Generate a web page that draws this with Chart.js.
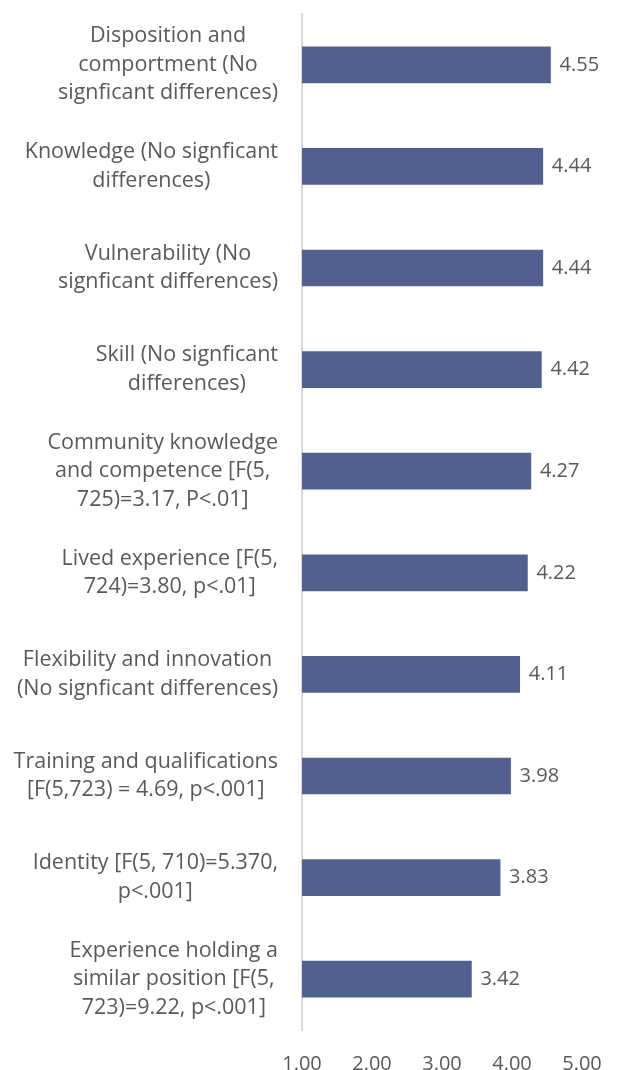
<!DOCTYPE html>
<html>
<head>
<meta charset="utf-8">
<title>Mean ratings</title>
<script src="https://cdn.jsdelivr.net/npm/chart.js@4/dist/chart.umd.min.js"></script>
<style>
    html, body { margin: 0; padding: 0; background: #ffffff; }
    #wrap { position: relative; width: 618px; height: 1070px; }
</style>
</head>
<body>
<div id="wrap">
    <canvas id="ratings-chart"></canvas>
</div>
<script>
// Category labels, one array of lines per bar (top to bottom)
const categories = [
    ['Disposition and', 'comportment (No', 'signficant differences)'],
    ['Knowledge (No signficant', 'differences)'],
    ['Vulnerability (No', 'signficant differences)'],
    ['Skill (No signficant', 'differences)'],
    ['Community knowledge', 'and competence [F(5,', '725)=3.17, P<.01]'],
    ['Lived experience [F(5,', '724)=3.80, p<.01]'],
    ['Flexibility and innovation', '(No signficant differences)'],
    ['Training and qualifications', '[F(5,723) = 4.69, p<.001]'],
    ['Identity [F(5, 710)=5.370,', 'p<.001]'],
    ['Experience holding a', 'similar position [F(5,', '723)=9.22, p<.001]']
];

const meanScores = [4.55, 4.44, 4.44, 4.42, 4.27, 4.22, 4.11, 3.98, 3.83, 3.42];

const xTicks = [1, 2, 3, 4, 5];

const FONT = '"Open Sans", Lato, sans-serif';
const LABEL_SIZE = 21.5;
const VALUE_SIZE = 20;
const TEXT_COLOR = '#595959';

// Excel-style category labels: each block is right-aligned, lines centred inside it
const categoryLabels = {
    id: 'categoryLabels',
    afterDraw(chart) {
        const ctx = chart.ctx;
        const yScale = chart.scales.y;
        const right = chart.chartArea.left - 24;
        const lineH = 28.5;
        ctx.save();
        ctx.font = LABEL_SIZE + 'px ' + FONT;
        ctx.fillStyle = TEXT_COLOR;
        ctx.textAlign = 'center';
        ctx.textBaseline = 'middle';
        categories.forEach((lines, i) => {
            const widest = Math.max(...lines.map(l => ctx.measureText(l).width));
            const cx = right - widest / 2;
            const cy = yScale.getPixelForTick(i);
            lines.forEach((line, j) => {
                ctx.fillText(line, cx, cy + (j - (lines.length - 1) / 2) * lineH);
            });
        });
        ctx.restore();
    }
};

// Value printed just past the end of each bar
const valueLabels = {
    id: 'valueLabels',
    afterDatasetsDraw(chart) {
        const ctx = chart.ctx;
        const meta = chart.getDatasetMeta(0);
        ctx.save();
        ctx.font = VALUE_SIZE + 'px ' + FONT;
        ctx.fillStyle = TEXT_COLOR;
        ctx.textAlign = 'left';
        ctx.textBaseline = 'middle';
        meta.data.forEach((bar, i) => {
            ctx.fillText(meanScores[i].toFixed(2), bar.x + 9, bar.y);
        });
        ctx.restore();
    }
};

const ctx = document.getElementById('ratings-chart').getContext('2d');
const ratingsChart = new Chart(ctx, {
    type: 'bar',
    data: {
        labels: categories,
        datasets: [{
            data: meanScores,
            backgroundColor: '#51608f',
            borderWidth: 0,
            barThickness: 36
        }]
    },
    options: {
        indexAxis: 'y',
        responsive: true,
        maintainAspectRatio: false,
        animation: false,
        layout: {
            padding: { top: 14, right: 36, left: 0, bottom: 0 }
        },
        plugins: {
            legend: { display: false },
            tooltip: { enabled: false }
        },
        scales: {
            x: {
                min: 1,
                max: 5,
                afterBuildTicks: (scale) => {
                    scale.ticks = xTicks.map(v => ({ value: v }));
                },
                afterFit: (scale) => {
                    // tick padding is only meant to push labels down, not inward
                    scale.height = 40;
                    scale.paddingLeft = 0;
                    scale.paddingRight = 0;
                },
                grid: { display: false, drawTicks: false },
                border: { display: false },
                ticks: {
                    padding: 22,
                    color: TEXT_COLOR,
                    font: { family: FONT, size: VALUE_SIZE },
                    maxRotation: 0,
                    callback: (value) => Number(value).toFixed(2)
                }
            },
            y: {
                afterFit: (scale) => { scale.width = 302; },
                grid: { display: false, drawTicks: false },
                border: { display: true, color: '#d9d9d9', width: 2 },
                ticks: { display: false }
            }
        }
    },
    plugins: [categoryLabels, valueLabels]
});
</script>
</body>
</html>
